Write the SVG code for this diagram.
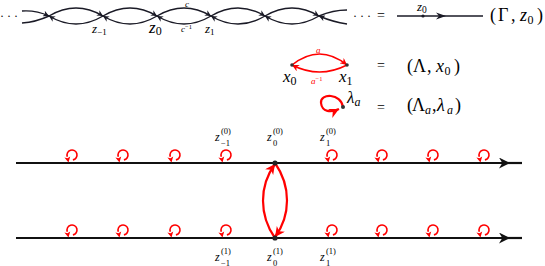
<svg xmlns="http://www.w3.org/2000/svg" xmlns:xlink="http://www.w3.org/1999/xlink" width="545" height="266" viewBox="0 0 545 266" font-family="'Liberation Serif','Times New Roman',serif">
<style>
.m{font-family:"Liberation Serif","Times New Roman",serif;font-style:italic}
.u{font-family:"Liberation Serif","Times New Roman",serif;font-style:normal}
.tk{fill:none;stroke:#1a1a26;stroke-width:1.4}
.ln{fill:none;stroke:#111;stroke-width:2.2}
.rd{fill:none;stroke:#ff0000;stroke-width:1.6}
.rdt{fill:none;stroke:#ff0000;stroke-width:2.2}
.red{fill:#ff0000}
</style>
<defs>
<marker id="ak" viewBox="0 0 10 10" refX="10" refY="5" markerWidth="8" markerHeight="6" markerUnits="userSpaceOnUse" orient="auto"><path d="M0,0 L10,5 L0,10 L3,5 Z" fill="#1a1a26"/></marker>
<marker id="ar" viewBox="0 0 10 10" refX="10" refY="5" markerWidth="8" markerHeight="7" markerUnits="userSpaceOnUse" orient="auto"><path d="M0,0 L10,5 L0,10 L3,5 Z" fill="#ff0000"/></marker>
<marker id="arb" viewBox="0 0 10 10" refX="10" refY="5" markerWidth="11" markerHeight="10" markerUnits="userSpaceOnUse" orient="auto"><path d="M0,0 L10,5 L0,10 L3,5 Z" fill="#ff0000"/></marker>
<marker id="ab" viewBox="0 0 10 10" refX="10" refY="5" markerWidth="11" markerHeight="11" markerUnits="userSpaceOnUse" orient="auto"><path d="M0,0 L10,5 L0,10 L3,5 Z" fill="#111"/></marker>
<g id="lp"><path d="M2.9,-3.1 A5,5 0 1 0 -2.7,-6.3" class="rd"/><path d="M-1.5,-0.4 L-5.6,-5.4 L-2.5,-4.8 L0.2,-6.6 Z" class="red"/></g>
</defs>

<g id="top-chain">
<text class="u" x="0" y="20" font-size="12">· · ·</text>
<g id="connectors-top">
<path class="tk" d="M22,11 Q36,10 49,16" marker-end="url(#ak)"/>
<path class="tk" d="M49,16 Q36,22 22,23"/>
<path class="tk" d="M49,16 Q76,0 103,16" marker-end="url(#ak)"/>
<path class="tk" d="M103,16 Q76,32 49,16" marker-end="url(#ak)"/>
<path class="tk" d="M103,16 Q130,0 157,16" marker-end="url(#ak)"/>
<path class="tk" d="M157,16 Q130,32 103,16" marker-end="url(#ak)"/>
<path class="tk" d="M157,16 Q184,0 211,16" marker-end="url(#ak)"/>
<path class="tk" d="M211,16 Q184,32 157,16" marker-end="url(#ak)"/>
<path class="tk" d="M211,16 Q238,0 265,16" marker-end="url(#ak)"/>
<path class="tk" d="M265,16 Q238,32 211,16" marker-end="url(#ak)"/>
<path class="tk" d="M265,16 Q292,0 319,16" marker-end="url(#ak)"/>
<path class="tk" d="M319,16 Q292,32 265,16" marker-end="url(#ak)"/>
<path class="tk" d="M319,16 Q333,10 347,10"/>
<path class="tk" d="M347,24 Q333,22 319,16" marker-end="url(#ak)"/>
</g>
<text class="m" x="92" y="33" font-size="13">z<tspan class="u" font-size="9" dy="2">−1</tspan></text>
<text class="m" x="149" y="33" font-size="17">z<tspan class="u" font-size="12" dy="2">0</tspan></text>
<text class="m" x="205" y="33" font-size="13">z<tspan class="u" font-size="9" dy="2">1</tspan></text>
<text class="m" x="185" y="7" font-size="9">c</text>
<text class="m" x="181" y="32" font-size="9">c<tspan class="u" font-size="6.5" dy="-3">−1</tspan></text>
<text class="u" x="353" y="20" font-size="12">· · ·</text>
<text class="u" x="377" y="20" font-size="14">=</text>
</g>

<g id="gamma-line">
<line class="tk" x1="397" y1="16" x2="483" y2="16"/>
<path d="M436,12.5 L446,16 L436,19.5 L439,16 Z" fill="#1a1a26"/>
<circle cx="423" cy="16" r="1.6" fill="#1a1a26"/>
<text class="m" x="417" y="11" font-size="13">z<tspan class="u" font-size="9.5" dy="1.5">0</tspan></text>
<text class="u" font-size="18" y="21"><tspan x="490">(</tspan><tspan x="498">Γ</tspan><tspan x="511">,</tspan><tspan class="m" x="520">z</tspan><tspan x="527.5" font-size="12" dy="3">0</tspan><tspan x="537" dy="-3">)</tspan></text>
</g>

<g id="lambda-graph">
<path class="rd" d="M292,65 Q319.5,43 347,65" marker-end="url(#ar)"/>
<path class="rd" d="M347,65 Q319.5,79 292,65" marker-end="url(#ar)"/>
<circle cx="292" cy="65" r="1.8" fill="#333"/>
<circle cx="347" cy="65" r="1.8" fill="#333"/>
<text class="m" x="316" y="53" font-size="9" fill="#ff0000">a</text>
<text class="m" x="311" y="84" font-size="9" fill="#ff0000">a<tspan class="u" font-size="6.5" dy="-3">−1</tspan></text>
<text class="m" x="283" y="82" font-size="17">x<tspan class="u" font-size="12" dy="3">0</tspan></text>
<text class="m" x="339" y="82" font-size="17">x<tspan class="u" font-size="12" dy="3">1</tspan></text>
<text class="u" x="377" y="70" font-size="14">=</text>
<text class="u" font-size="18" y="72"><tspan x="407">(</tspan><tspan x="413">Λ</tspan><tspan x="427">,</tspan><tspan class="m" x="436">x</tspan><tspan x="444.5" font-size="12" dy="3">0</tspan><tspan x="454" dy="-3">)</tspan></text>
</g>

<g id="lambda-a">
<path class="rdt" d="M343,107 C341,93 320,93 321,103 C322,112 331,113 339,109" marker-end="url(#arb)"/>
<circle cx="343" cy="107" r="2" fill="#333"/>
<text class="m" x="347" y="103" font-size="17">λ<tspan font-size="12" dy="3">a</tspan></text>
<text class="u" x="377" y="112" font-size="14">=</text>
<text class="u" font-size="18" y="111"><tspan x="407">(</tspan><tspan x="412">Λ</tspan><tspan class="m" x="425" font-size="12" dy="3">a</tspan><tspan x="432" dy="-3">,</tspan><tspan class="m" x="437">λ</tspan><tspan class="m" x="447" font-size="12" dy="3">a</tspan><tspan x="455" dy="-3">)</tspan></text>
</g>

<g id="connectors">
<path class="ln" d="M16,163 L510,163" marker-end="url(#ab)"/>
<line class="ln" x1="505" y1="163" x2="522" y2="163"/>
<path class="ln" d="M16,238 L510,238" marker-end="url(#ab)"/>
<line class="ln" x1="505" y1="238" x2="522" y2="238"/>
<path class="rdt" d="M275,238 C259,215 259,186 275,164" marker-end="url(#arb)"/>
<path class="rdt" d="M275,163 C291,186 291,215 275,237" marker-end="url(#arb)"/>
</g>

<g id="loops-top">
<use xlink:href="#lp" x="70" y="163"/>
<use xlink:href="#lp" x="121" y="163"/>
<use xlink:href="#lp" x="173" y="163"/>
<use xlink:href="#lp" x="224" y="163"/>
<use xlink:href="#lp" x="330" y="163"/>
<use xlink:href="#lp" x="380" y="163"/>
<use xlink:href="#lp" x="431" y="163"/>
<use xlink:href="#lp" x="482" y="163"/>
</g>
<g id="loops-bottom">
<use xlink:href="#lp" x="70" y="238"/>
<use xlink:href="#lp" x="121" y="238"/>
<use xlink:href="#lp" x="173" y="238"/>
<use xlink:href="#lp" x="224" y="238"/>
<use xlink:href="#lp" x="330" y="238"/>
<use xlink:href="#lp" x="380" y="238"/>
<use xlink:href="#lp" x="431" y="238"/>
<use xlink:href="#lp" x="482" y="238"/>
</g>

<g id="node-z0-0">
<circle cx="275" cy="163" r="2.6" fill="#222"/>
</g>
<g id="node-z0-1">
<circle cx="275" cy="238" r="2.6" fill="#222"/>
</g>

<g id="labels-top">
<text class="m" x="215" y="141" font-size="12">z</text>
<text class="u" x="221" y="134" font-size="8.5">(0)</text>
<text class="u" x="221" y="145.5" font-size="8.5">−1</text>
<text class="m" x="267" y="141" font-size="12">z</text>
<text class="u" x="273" y="134" font-size="8.5">(0)</text>
<text class="u" x="273" y="145.5" font-size="8.5">0</text>
<text class="m" x="320" y="141" font-size="12">z</text>
<text class="u" x="326" y="134" font-size="8.5">(0)</text>
<text class="u" x="326" y="145.5" font-size="8.5">1</text>
</g>
<g id="labels-bottom">
<text class="m" x="215" y="261" font-size="12">z</text>
<text class="u" x="221" y="254" font-size="8.5">(1)</text>
<text class="u" x="221" y="265.5" font-size="8.5">−1</text>
<text class="m" x="267" y="261" font-size="12">z</text>
<text class="u" x="273" y="254" font-size="8.5">(1)</text>
<text class="u" x="273" y="265.5" font-size="8.5">0</text>
<text class="m" x="320" y="261" font-size="12">z</text>
<text class="u" x="326" y="254" font-size="8.5">(1)</text>
<text class="u" x="326" y="265.5" font-size="8.5">1</text>
</g>
</svg>
